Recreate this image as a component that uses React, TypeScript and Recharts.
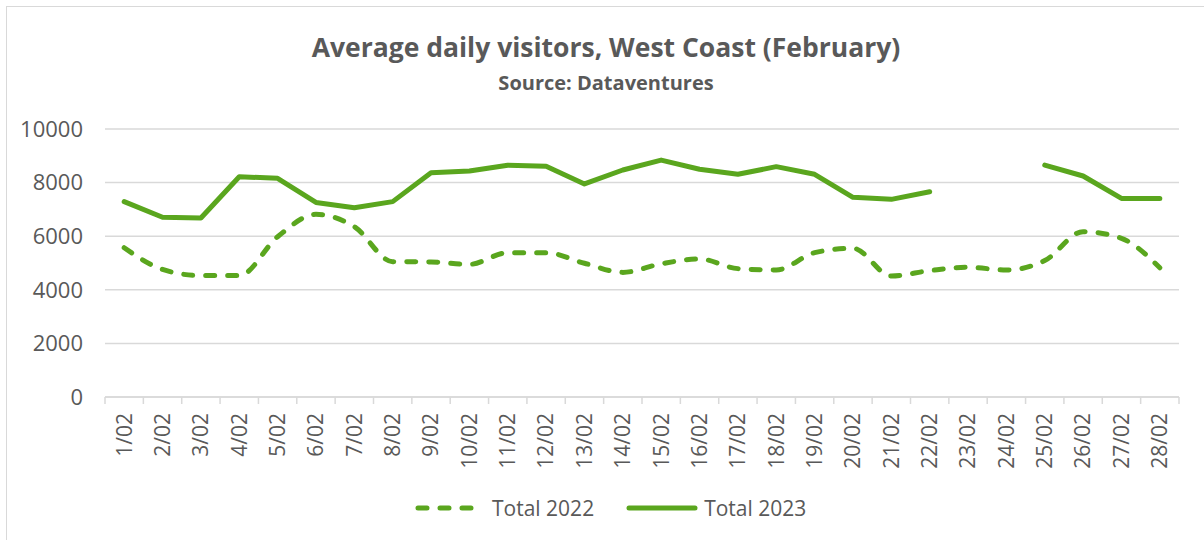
import { LineChart, Line, XAxis, YAxis, CartesianGrid } from "recharts";

const days = [
  "1/02", "2/02", "3/02", "4/02", "5/02", "6/02", "7/02", "8/02", "9/02", "10/02",
  "11/02", "12/02", "13/02", "14/02", "15/02", "16/02", "17/02", "18/02", "19/02", "20/02",
  "21/02", "22/02", "23/02", "24/02", "25/02", "26/02", "27/02", "28/02",
];

const total2022 = [
  5570, 4760, 4530, 4530, 5980, 6815, 6355, 5050, 5040, 4950,
  5385, 5385, 4990, 4650, 4970, 5150, 4790, 4740, 5385, 5550,
  4515, 4715, 4840, 4740, 5090, 6170, 5920, 4820,
];

const total2023: (number | null)[] = [
  7290, 6705, 6680, 8220, 8160, 7260, 7065, 7290, 8370, 8430,
  8650, 8610, 7950, 8470, 8840, 8500, 8310, 8595, 8310, 7450,
  7375, 7660, null, null, 8650, 8246, 7410, 7410,
];

const yTicks = [0, 2000, 4000, 6000, 8000, 10000];

const GREEN = "#5aa61e";
const TEXT = "#595959";
const GRID = "#d9d9d9";
const FONT = "'Open Sans', sans-serif";

const W = 1204;
const H = 540;
const X_AXIS_H = 80;
const M = { top: 129, right: 25, bottom: 143 - X_AXIS_H, left: 0 };
const Y_AXIS_W = 105;
const BAND = (W - M.left - M.right - Y_AXIS_W) / days.length;

const data = days.map((d, i) => ({
  day: d,
  t2022: total2022[i],
  t2023: total2023[i],
}));

// category ticks sit at band centres; Excel draws the tick marks on the band edges
function DayTick(props: any) {
  const { x, y, payload, index } = props;
  const half = BAND / 2;
  return (
    <g>
      <line x1={x - half} y1={y} x2={x - half} y2={y + 7} stroke={GRID} strokeWidth={1.5} />
      {index === days.length - 1 && (
        <line x1={x + half} y1={y} x2={x + half} y2={y + 7} stroke={GRID} strokeWidth={1.5} />
      )}
      <text
        x={x}
        y={y + 16}
        dy="0.35em"
        transform={`rotate(-90, ${x}, ${y + 16})`}
        textAnchor="end"
        fill={TEXT}
        fontSize={21}
        fontFamily={FONT}
      >
        {payload.value}
      </text>
    </g>
  );
}

export default function App() {
  return (
    <div style={{ position: "absolute", left: 0, top: 0, width: W, height: H, background: "#fff", fontFamily: FONT, overflow: "hidden" }}>
      <div style={{ position: "absolute", left: 6, top: 6, width: W, height: H, border: `1px solid ${GRID}` }} />
      <div style={{ position: "absolute", left: 0, width: 1212, top: 29, textAlign: "center", color: TEXT, fontWeight: 700, fontSize: 26.5, lineHeight: "36px" }}>
        Average daily visitors, West Coast (February)
      </div>
      <div style={{ position: "absolute", left: 0, width: 1212, top: 69, textAlign: "center", color: TEXT, fontWeight: 700, fontSize: 20, lineHeight: "28px" }}>
        Source: Dataventures
      </div>

      <div style={{ position: "absolute", left: 0, top: 0 }}>
        <LineChart width={W} height={H} data={data} margin={M}>
          <CartesianGrid vertical={false} stroke={GRID} strokeWidth={1.5} />
          <XAxis
            dataKey="day"
            interval={0}
            padding={{ left: BAND / 2, right: BAND / 2 }}
            stroke={GRID}
            strokeWidth={1.5}
            tickLine={false}
            tickSize={0}
            tickMargin={0}
            height={X_AXIS_H}
            tick={<DayTick />}
          />
          <YAxis
            domain={[0, 10000]}
            ticks={yTicks}
            axisLine={false}
            tickLine={false}
            tickSize={0}
            tickMargin={22}
            width={Y_AXIS_W}
            tick={{ fill: TEXT, fontSize: 22, fontFamily: FONT }}
          />
          <Line
            type="monotone"
            dataKey="t2022"
            stroke={GREEN}
            strokeWidth={5}
            strokeDasharray="9 13"
            strokeLinecap="round"
            dot={false}
            isAnimationActive={false}
          />
          <Line
            type="linear"
            dataKey="t2023"
            stroke={GREEN}
            strokeWidth={5}
            strokeLinecap="round"
            strokeLinejoin="round"
            dot={false}
            isAnimationActive={false}
          />
        </LineChart>
      </div>

      <div style={{ position: "absolute", top: 494, left: 414, display: "flex", alignItems: "center", color: TEXT, fontSize: 21 }}>
        <svg width={68} height={8}>
          <line x1={4} y1={4} x2={64} y2={4} stroke={GREEN} strokeWidth={5} strokeDasharray="9 13" strokeLinecap="round" />
        </svg>
        <span style={{ marginLeft: 10 }}>Total 2022</span>
        <svg width={72} height={8} style={{ marginLeft: 32 }}>
          <line x1={3} y1={4} x2={69} y2={4} stroke={GREEN} strokeWidth={5} strokeLinecap="round" />
        </svg>
        <span style={{ marginLeft: 6 }}>Total 2023</span>
      </div>
    </div>
  );
}
